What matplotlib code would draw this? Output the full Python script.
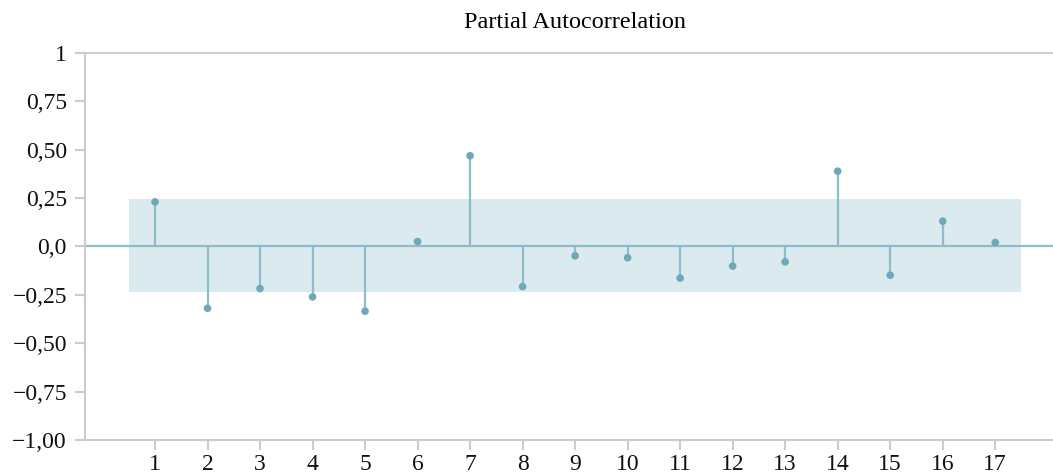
import matplotlib.pyplot as plt
import numpy as np

# === ДАННЫЕ ===
lags = np.arange(1, 18)
pacf = [0.23, -0.32, -0.218, -0.261, -0.335, 0.025, 0.468, -0.208, -0.049,
        -0.059, -0.164, -0.102, -0.08, 0.388, -0.149, 0.130, 0.020]
conf_upper = 0.242
conf_lower = -0.236

y_ticks = [1, 0.75, 0.5, 0.25, 0.0, -0.25, -0.5, -0.75, -1.0]
y_labels = ['1', '0,75', '0,50', '0,25', '0,0', '\u22120,25', '\u22120,50', '\u22120,75', '\u22121,00']

STEM_COLOR = '#8fbccb'
DOT_COLOR = '#6ea8b9'
BAND_COLOR = '#dbeaee'
AXIS_COLOR = '#cccccc'

plt.rcParams['font.family'] = ['Liberation Serif', 'DejaVu Serif']

fig = plt.figure(figsize=(10.53, 4.74), dpi=100)
ax = fig.add_axes([85 / 1053, 34 / 474, 1 - 85 / 1053, (440 - 52.7) / 474])

# доверительный интервал
ax.fill_between([0.5, 17.5], conf_lower, conf_upper, color=BAND_COLOR, lw=0, zorder=1)
ax.axhline(0, color=STEM_COLOR, lw=1.6, zorder=2)

ax.vlines(lags, 0, pacf, color=STEM_COLOR, lw=1.6, zorder=3)
ax.scatter(lags, pacf, s=30, color=DOT_COLOR, zorder=4, edgecolors='none')

ax.set_xlim(-0.333, 18.1)
ax.set_ylim(-1, 1)
ax.set_xticks(lags)
ax.set_xticklabels([str(l) for l in lags])
ax.set_yticks(y_ticks)
ax.set_yticklabels(y_labels)

for side in ['left', 'bottom', 'top']:
    ax.spines[side].set_color(AXIS_COLOR)
    ax.spines[side].set_linewidth(1.5)
ax.spines['right'].set_visible(False)

ax.tick_params(axis='both', colors=AXIS_COLOR, labelcolor='#111111',
               labelsize=17, length=7, width=1.5)
ax.tick_params(axis='y', pad=6)
ax.tick_params(axis='x', pad=3)

ax.set_title('Partial Autocorrelation', fontsize=17.5, pad=18, x=0.506)

fig.savefig('out.png', dpi=100)
